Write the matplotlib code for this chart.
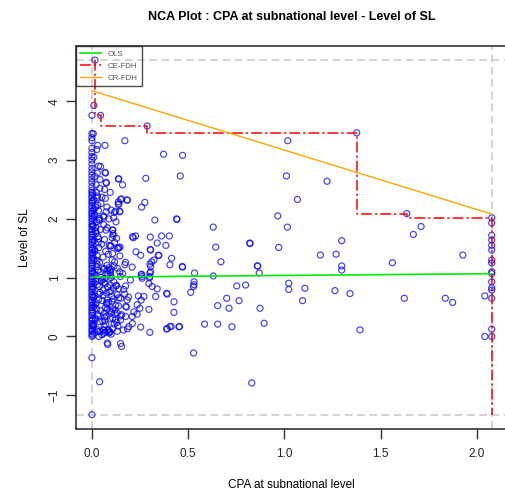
import matplotlib
matplotlib.use("Agg")
import matplotlib.pyplot as plt

plt.rcParams['font.family'] = ['Liberation Sans', 'DejaVu Sans']

# observations: CPA at subnational level (x) vs Level of SL (y)
# dense column at CPA = 0
col0_y = [0.00, 0.04, 0.09, 0.13, 0.18, 0.22, 0.27, 0.31, 0.36, 0.40,
          0.45, 0.49, 0.53, 0.58, 0.62, 0.67, 0.71, 0.76, 0.80, 0.85,
          0.89, 0.93, 0.98, 1.02, 1.07, 1.11, 1.16, 1.20, 1.25, 1.29,
          1.33, 1.38, 1.42, 1.47, 1.51, 1.56, 1.60, 1.65, 1.69, 1.73,
          1.78, 1.82, 1.87, 1.91, 1.96, 2.00, 2.05, 2.09, 2.13, 2.18,
          2.22, 2.27, 2.31, 2.36, 2.40, 2.45, 2.49, 2.55, 2.62, 2.68,
          2.74, 2.80, 2.86, 2.93, 3.00, 3.06, 3.13, 3.20, 3.33, 3.38,
          3.45, 3.76, -0.36, -1.33]

# points just right of zero
near_x = [0.012, 0.025, 0.008, 0.038, 0.018, 0.030, 0.045, 0.010, 0.022, 0.035,
          0.015, 0.042, 0.006, 0.028, 0.020, 0.048, 0.011, 0.033, 0.024, 0.040,
          0.009, 0.027, 0.016, 0.036, 0.050, 0.013, 0.031, 0.021, 0.044, 0.007,
          0.026, 0.039, 0.014, 0.034, 0.019, 0.047, 0.010, 0.029, 0.023, 0.041,
          0.008, 0.032, 0.017, 0.037, 0.012, 0.046, 0.026, 0.015, 0.035, 0.020,
          0.011, 0.030, 0.043, 0.018, 0.024, 0.009, 0.038, 0.014, 0.027, 0.006,
          0.033, 0.019, 0.040, 0.013, 0.028, 0.022, 0.016, 0.035, 0.010, 0.025,
          0.005, 0.004, 0.006, 0.005, 0.004, 0.006, 0.005, 0.004, 0.006, 0.005,
          0.004, 0.006, 0.005, 0.004, 0.006, 0.005, 0.004, 0.006, 0.005, 0.004]
near_y = [0.06, 0.12, 0.19, 0.25, 0.31, 0.38, 0.44, 0.50, 0.57, 0.63,
          0.69, 0.75, 0.82, 0.88, 0.94, 1.01, 1.07, 1.13, 1.19, 1.26,
          1.32, 1.38, 1.45, 1.51, 1.57, 1.63, 1.70, 1.76, 1.82, 1.89,
          1.95, 2.01, 2.07, 2.14, 2.20, 2.26, 2.33, 2.39, 2.45, 2.52,
          0.16, 0.35, 0.54, 0.72, 0.91, 1.10, 1.29, 1.48, 1.66, 1.85,
          2.04, 2.23, 0.09, 0.28, 0.47, 0.66, 0.85, 1.04, 1.23, 1.42,
          1.60, 1.79, 1.98, 2.17, 2.36, 2.58, 2.72, 2.90, 3.05, 3.18,
          0.02, 0.11, 0.20, 0.29, 0.42, 0.55, 0.69, 0.83, 0.96, 1.09,
          1.22, 1.35, 1.49, 1.62, 1.75, 1.88, 2.02, 2.15, 2.29, 2.43]

low_x = [0.060, 0.085, 0.110, 0.072, 0.130, 0.095, 0.150, 0.065, 0.120, 0.180,
         0.078, 0.105, 0.140, 0.058, 0.090, 0.165, 0.125, 0.070, 0.200, 0.100,
         0.082, 0.145, 0.062, 0.115, 0.175, 0.092, 0.135, 0.068, 0.155, 0.108,
         0.075, 0.190, 0.098, 0.128, 0.057, 0.160, 0.088, 0.118, 0.210, 0.066,
         0.102, 0.138, 0.080, 0.170, 0.112, 0.063, 0.148, 0.094, 0.185, 0.122,
         0.058, 0.072, 0.090, 0.065, 0.110, 0.080, 0.125, 0.060, 0.100, 0.140,
         0.070, 0.095, 0.085, 0.062, 0.118, 0.078, 0.105, 0.066, 0.088, 0.132,
         0.052, 0.068, 0.084, 0.100, 0.116, 0.132, 0.056, 0.074, 0.092, 0.108,
         0.124, 0.054, 0.070, 0.086, 0.104, 0.120, 0.058, 0.076, 0.094, 0.112,
         0.050, 0.066, 0.082, 0.098, 0.114, 0.060, 0.078, 0.096, 0.064, 0.080]
low_y = [0.05, 0.10, 0.14, 0.20, 0.24, 0.30, 0.35, 0.40, 0.45, 0.50,
         0.55, 0.60, 0.66, 0.70, 0.76, 0.80, 0.86, 0.90, 0.96, 1.00,
         1.06, 1.10, 1.16, 1.20, 1.26, 0.08, 0.18, 0.27, 0.37, 0.47,
         0.57, 0.67, 0.77, 0.87, 0.97, 1.07, 1.17, 1.27, 0.22, 0.33,
         0.42, 0.52, 0.62, 0.72, 0.82, 0.92, 1.02, 1.12, 0.13, 0.28,
         1.35, 1.45, 1.55, 1.65, 1.75, 1.85, 1.95, 2.05, 2.15, 2.25,
         2.35, 2.45, 1.40, 1.90, 1.60, 2.20, 1.30, 2.50, 2.00, 1.50,
         0.03, 0.07, 0.12, 0.04, 0.21, 0.09, 0.26, 0.34, 0.44, 0.31,
         0.53, 0.61, 0.49, 0.58, 0.68, 0.39, 0.79, 0.74, 0.88, 0.64,
         0.95, 0.99, 0.84, 1.04, 0.93, 1.14, 1.21, 1.09, 0.17, 0.46]

spread_x = [0.016, 0.010, 0.045, 0.287, 0.007, 0.030, 0.068, 0.171, 0.372, 0.471,
            0.280, 0.459, 0.137, 0.159, 0.045, 0.068, 0.073, 0.042, 0.052, 0.154,
            0.184, 0.137, 0.137, 0.275, 0.258, 0.116, 0.145, 0.113, 0.327, 0.440,
            0.630, 0.107, 0.073, 0.211, 0.227, 0.215, 0.303, 0.362, 0.402, 0.105,
            0.339, 0.384, 0.643, 0.820, 0.099, 0.146, 0.137, 0.229, 0.253, 0.303,
            0.345, 0.107, 0.145, 0.414, 0.405, 0.322, 0.310, 0.301, 0.670, 0.861,
            0.869, 0.471, 0.533, 0.630, 0.258, 0.301, 0.260, 0.301, 0.071, 0.028,
            0.076, 0.140, 0.149, 0.183, 0.123, 0.144, 0.074, 0.062, 0.036, 0.442,
            0.109, 0.111, 0.128, 0.097, 0.140, 0.305, 0.348, 0.469, 0.171, 0.209,
            0.305, 0.132, 0.097, 0.080, 0.305, 0.256, 0.261, 0.299, 0.296, 0.313,
            0.339, 0.391, 0.513, 0.530, 0.530, 0.175, 0.140, 0.132, 0.149, 0.183,
            0.241, 0.270, 0.256, 0.331, 0.426, 0.235, 0.249, 0.296, 0.426, 0.218,
            0.209, 0.235, 0.175, 0.175, 0.132, 0.149, 0.192, 0.253, 0.301, 0.391,
            0.412, 0.455, 0.163, 0.088, 0.062, 0.080, 0.149, 0.388, 0.405, 0.388,
            0.452, 0.527, 0.585, 0.653, 0.653, 0.700, 0.712, 0.727, 0.764, 0.752,
            0.798, 0.873, 0.894, 0.528, 0.830, 0.036, 0.082, 0.154, 0.040, 0.094,
            0.059, 0.033, 1.375, 1.017, 1.010, 1.221, 1.067, 0.965, 1.015, 0.821,
            0.970, 1.297, 1.186, 1.268, 1.560, 1.926, 1.635, 1.709, 1.669, 0.859,
            1.297, 1.297, 1.022, 1.022, 1.106, 1.262, 1.340, 1.094, 1.392, 1.622,
            1.835, 1.873, 2.040, 2.040]
spread_y = [4.70, 3.93, 3.76, 3.58, 3.45, 3.25, 3.25, 3.33, 3.10, 3.08,
            2.69, 2.73, 2.68, 2.58, 2.89, 2.79, 2.62, 2.67, 2.37, 2.34,
            2.32, 2.29, 2.25, 2.28, 2.20, 2.11, 2.13, 2.02, 1.98, 2.00,
            1.86, 1.81, 1.81, 1.70, 1.71, 1.68, 1.69, 1.71, 1.71, 1.68,
            1.59, 1.55, 1.52, 1.59, 1.54, 1.52, 1.50, 1.44, 1.38, 1.48,
            1.38, 1.41, 1.37, 1.33, 1.22, 1.30, 1.27, 1.23, 1.27, 1.20,
            1.08, 1.18, 1.08, 1.03, 1.06, 1.08, 1.02, 1.02, 2.78, 2.78,
            2.61, 2.68, 2.33, 2.32, 2.13, 2.12, 2.12, 2.03, 1.98, 1.99,
            1.81, 1.72, 1.67, 1.54, 1.51, 1.47, 1.38, 1.19, 1.22, 1.18,
            1.19, 1.16, 1.15, 1.13, 1.10, 1.05, 0.99, 1.00, 0.90, 0.85,
            0.81, 0.72, 0.75, 0.93, 0.88, 0.86, 0.81, 0.71, 0.65, 0.62,
            0.69, 0.68, 0.62, 0.68, 0.59, 0.54, 0.48, 0.46, 0.41, 0.42,
            0.34, 0.38, 0.51, 0.34, 0.40, 0.28, 0.17, 0.16, 0.07, 0.13,
            0.17, 0.17, 0.11, 0.06, 0.11, -0.11, -0.12, 0.735, 0.17, 0.13,
            0.165, 0.85, 0.21, 0.21, 0.525, 0.65, 0.48, 0.165, 0.61, 0.86,
            0.875, 0.48, 0.225, -0.28, -0.79, 0.00, -0.135, -0.17, -0.77, 0.075,
            0.11, 0.085, 3.464, 3.33, 2.73, 2.64, 2.33, 2.05, 1.86, 1.58,
            1.515, 1.63, 1.385, 1.40, 1.255, 1.385, 2.09, 1.87, 1.735, 1.20,
            1.20, 1.13, 0.905, 0.80, 0.82, 0.78, 0.73, 0.61, 0.113, 0.65,
            0.65, 0.58, 0.69, 0.00]

# column at the maximum CPA
max_cpa = 2.076
colmax_y = [2.02, 1.93, 1.72, 1.64, 1.55, 1.47, 1.30, 1.25, 1.10, 1.07,
            0.93, 0.83, 0.79, 0.65, 0.125, 0.00]

# ceiling lines
ce_x = [0.016, 0.047, 0.287, 1.375, 1.635, 2.076, 2.076]
ce_y = [4.70, 3.77, 3.58, 3.46, 2.09, 2.02, -1.33]
cr_intercept, cr_slope = 4.18, -1.011
ols_intercept, ols_slope = 1.01, 0.028

x_min, x_max = 0.0, 2.076
y_min, y_max = -1.33, 4.70

x = [0.0] * len(col0_y) + near_x + low_x + spread_x + [max_cpa] * len(colmax_y)
y = col0_y + near_y + low_y + spread_y + colmax_y

fig = plt.figure(figsize=(5.06, 5.0), dpi=100)
ax = fig.add_axes([0.150, 0.142, 0.853, 0.766])

ax.scatter(x, y, s=19, facecolors='none', edgecolors='blue', linewidths=0.85,
           alpha=0.75, zorder=2)

# data range guides
for v in (x_min, x_max):
    ax.axvline(v, color='#c8c8c8', lw=1.1, ls=(0, (5, 3)), zorder=1)
for v in (y_min, y_max):
    ax.axhline(v, color='#c8c8c8', lw=1.1, ls=(0, (5, 3)), zorder=1)

xs = [x_min, x_max]
ax.plot(xs, [ols_intercept + ols_slope * v for v in xs], color='#00ee00',
        lw=1.2, label='OLS', zorder=3)
ax.step(ce_x, ce_y, where='pre', color='red', lw=1.1, ls=(0, (7, 2, 1.5, 2)),
        label='CE-FDH', zorder=3)
ax.plot(xs, [cr_intercept + cr_slope * v for v in xs], color='orange',
        lw=1.0, label='CR-FDH', zorder=3)

ax.set_xlim(-0.083, 2.158)
ax.set_ylim(-1.573, 4.94)
ax.set_xticks([0.0, 0.5, 1.0, 1.5, 2.0])
ax.set_xticklabels(['0.0', '0.5', '1.0', '1.5', '2.0'])
ax.set_yticks([-1, 0, 1, 2, 3, 4])
ax.tick_params(axis='both', length=7, width=1, color='#333333',
               labelsize=8.5, labelcolor='#222222', pad=7)
ax.tick_params(axis='y', pad=4)
plt.setp(ax.get_yticklabels(), rotation=90, va='center')
for sp in ax.spines.values():
    sp.set_color('#333333')
    sp.set_linewidth(1.2)

ax.set_xlabel('CPA at subnational level', fontsize=8.5, labelpad=13)
ax.set_ylabel('Level of SL', fontsize=8.5, labelpad=13)
ax.set_title('NCA Plot : CPA at subnational level - Level of SL',
             fontsize=9, fontweight='bold', pad=19)

leg = ax.legend(loc='upper left', fontsize=5.7, frameon=True, fancybox=False,
                borderaxespad=0, handlelength=2.6, handletextpad=0.9,
                labelspacing=0.55, borderpad=0.55, labelcolor='#555555')
leg.get_frame().set_edgecolor('#222222')
leg.get_frame().set_facecolor('none')
leg.get_frame().set_linewidth(1.0)

fig.savefig('out.png', dpi=100)
